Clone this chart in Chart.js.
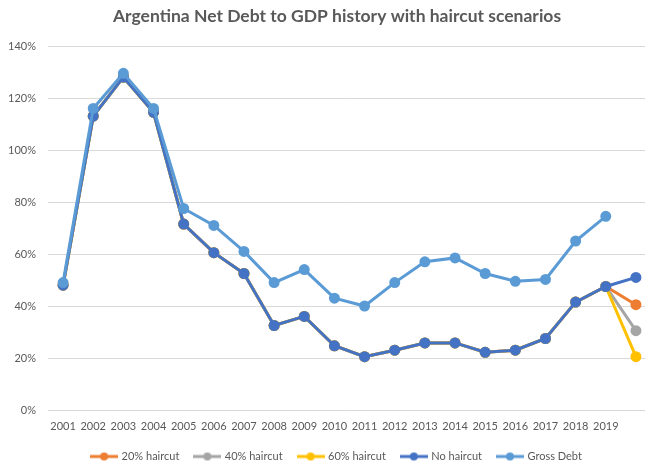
<!DOCTYPE html>
<html>
<head>
<meta charset="utf-8">
<script src="https://cdn.jsdelivr.net/npm/chart.js@4.4.0/dist/chart.umd.min.js"></script>
<style>
  html, body { margin: 0; padding: 0; background: #fff; overflow: hidden; }
  #wrap { width: 674px; height: 467px; position: relative; }
</style>
</head>
<body>
<div id="wrap"><canvas id="myChart"></canvas></div>
<script>
const years = ["2001","2002","2003","2004","2005","2006","2007","2008","2009","2010",
               "2011","2012","2013","2014","2015","2016","2017","2018","2019",""];

// values in % of GDP
const noHaircut = [48, 113, 128, 114.5, 71.5, 60.5, 52.5, 32.5, 36, 24.7,
                   20.5, 23, 25.8, 25.8, 22.2, 23, 27.5, 41.5, 47.5, 51];
const haircut20 = [48, 113, 128, 114.5, 71.5, 60.5, 52.5, 32.5, 36, 24.7,
                   20.5, 23, 25.8, 25.8, 22.2, 23, 27.5, 41.5, 47.5, 40.5];
const haircut40 = [48, 113, 128, 114.5, 71.5, 60.5, 52.5, 32.5, 36, 24.7,
                   20.5, 23, 25.8, 25.8, 22.2, 23, 27.5, 41.5, 47.5, 30.5];
const haircut60 = [48, 113, 128, 114.5, 71.5, 60.5, 52.5, 32.5, 36, 24.7,
                   20.5, 23, 25.8, 25.8, 22.2, 23, 27.5, 41.5, 47.5, 20.5];
const grossDebt = [49, 116, 129.5, 116, 77.5, 71, 61, 49, 54, 43,
                   40, 49, 57, 58.5, 52.5, 49.5, 50.2, 65, 74.5, null];

const yTicks = [0, 20, 40, 60, 80, 100, 120, 140];

const legendIcon = color => {
  const c = document.createElement("canvas");
  c.width = 28; c.height = 10;
  const ctx = c.getContext("2d");
  ctx.strokeStyle = color;
  ctx.lineWidth = 3;
  ctx.beginPath();
  ctx.moveTo(0, 5); ctx.lineTo(28, 5);
  ctx.stroke();
  ctx.fillStyle = color;
  ctx.beginPath();
  ctx.arc(14, 5, 4, 0, Math.PI * 2);
  ctx.fill();
  return c;
};

// lower order is drawn on top
const series = (label, data, color, order) => ({
  label: label,
  data: data,
  order: order,
  borderColor: color,
  backgroundColor: color,
  borderWidth: 3,
  pointRadius: 4,
  pointHoverRadius: 4,
  pointBackgroundColor: color,
  pointBorderColor: color,
  tension: 0,
  fill: false,
  spanGaps: false,
  icon: legendIcon(color)
});

const datasets = [
  series("20% haircut", haircut20, "#ED7D31", 4),
  series("40% haircut", haircut40, "#A5A5A5", 3),
  series("60% haircut", haircut60, "#FFC000", 2),
  series("No haircut", noHaircut, "#4472C4", 1),
  series("Gross Debt", grossDebt, "#5B9BD5", 0)
];

const tickFont = { family: "Lato", size: 11 };

const chart = new Chart("myChart", {
  type: "line",
  data: { labels: years, datasets: datasets },
  options: {
    responsive: true,
    maintainAspectRatio: false,
    animation: false,
    layout: { padding: { left: 23, right: 23, top: 0, bottom: -5 } },
    plugins: {
      title: {
        display: true,
        text: "Argentina Net Debt to GDP history with haircut scenarios",
        color: "#595959",
        font: { family: "Lato", size: 17.5, weight: "bold" },
        padding: { top: 6, bottom: 19 }
      },
      legend: {
        position: "bottom",
        labels: {
          usePointStyle: true,
          pointStyleWidth: 24,
          color: "#595959",
          font: tickFont,
          padding: 16,
          sort: (a, b) => a.datasetIndex - b.datasetIndex,
          generateLabels: ch => {
            const items = Chart.defaults.plugins.legend.labels.generateLabels(ch);
            items.forEach(it => { it.pointStyle = ch.data.datasets[it.datasetIndex].icon; });
            return items;
          }
        }
      },
      tooltip: { enabled: false }
    },
    scales: {
      x: {
        offset: true,
        grid: { display: false, drawTicks: false },
        border: { display: false },
        ticks: { color: "#595959", font: tickFont, maxRotation: 0, autoSkip: false, padding: 10 },
        afterFit: axis => { axis.height = 25; }
      },
      y: {
        min: 0,
        max: 140,
        afterBuildTicks: axis => { axis.ticks = yTicks.map(v => ({ value: v })); },
        afterFit: axis => {
          axis.width = 25;
          axis._computeLabelArea = () => null; // let the % labels run into the padding
        },
        grid: { color: "#D9D9D9", lineWidth: 1, drawTicks: false },
        border: { display: false },
        ticks: {
          color: "#595959",
          font: tickFont,
          padding: 12,
          callback: v => v + "%"
        }
      }
    }
  }
});
</script>
</body>
</html>
